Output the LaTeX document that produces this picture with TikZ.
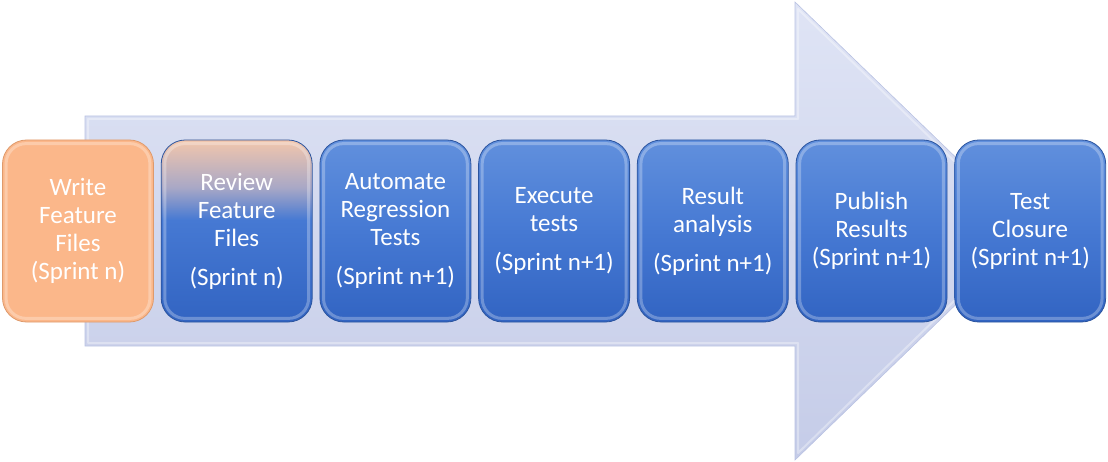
\documentclass[tikz,border=0pt]{standalone}
\usepackage{fontspec}
\setmainfont{Carlito}
\definecolor{bluetop}{HTML}{6190DD}
\definecolor{bluemid}{HTML}{4679D3}
\definecolor{bluebot}{HTML}{3264C2}
\definecolor{boxedge}{HTML}{2B549E}
\definecolor{peach}{HTML}{F2C6AC}
\definecolor{mauve}{HTML}{A9A8C6}
\definecolor{orangefill}{HTML}{FBB78A}
\definecolor{orangeedge}{HTML}{DE9A6C}
\definecolor{arrowtop}{HTML}{DFE4F5}
\definecolor{arrowbot}{HTML}{C5CCE8}
\definecolor{arrowedge}{HTML}{B9C2E2}
% vertical shadings: the path's box maps onto 25bp..75bp
\pgfdeclareverticalshading{bluebox}{100bp}{color(0bp)=(bluebot); color(25bp)=(bluebot); color(50bp)=(bluemid); color(75bp)=(bluetop); color(100bp)=(bluetop)}
\pgfdeclareverticalshading{mixbox}{100bp}{color(0bp)=(bluebot); color(25bp)=(bluebot); color(53bp)=(bluemid); color(62bp)=(mauve); color(75bp)=(peach); color(100bp)=(peach)}
\pgfdeclareverticalshading{bigarrow}{100bp}{color(0bp)=(arrowbot); color(25bp)=(arrowbot); color(75bp)=(arrowtop); color(100bp)=(arrowtop)}
\tikzset{
  stagebase/.style={rounded corners=24pt, minimum width=151pt, minimum height=182pt,
    line width=0.8pt, text=white, align=center,
    inner sep=0pt, font=\fontsize{25}{28}\selectfont},
  stage/.style={stagebase, draw=boxedge, shading=bluebox},
  firststage/.style={stagebase, fill=orangefill, draw=orangeedge},
  secondstage/.style={stagebase, draw=boxedge, shading=mixbox},
  bevel/.style={rounded corners=20pt, draw=white, draw opacity=0.28, line width=3pt},
}
\begin{document}
\begin{tikzpicture}[x=1pt, y=-1pt]
\useasboundingbox (0,0) rectangle (1108,462);
% background block arrow
\shade[shading=bigarrow, draw=arrowedge, line width=0.6pt]
  (85,116) -- (795,116) -- (795,2) -- (1032,231) -- (795,460) -- (795,346) -- (85,346) -- cycle;
\draw[white, opacity=0.35, line width=2pt, line join=round]
  (88,119) -- (798,119) -- (798,9) -- (1026,231) -- (798,453) -- (798,343) -- (88,343) -- cycle;
% process stages
\node[firststage] (s1) at (78,231) {Write\\Feature\\Files\\(Sprint n)};
\node[secondstage] (s2) at (236.7,231) {Review\\Feature\\Files\\[11pt](Sprint n)};
\node[stage] (s3) at (395.4,231) {Automate\\Regression\\Tests\\[11pt](Sprint n+1)};
\node[stage] (s4) at (554.1,231) {Execute\\tests\\[11pt](Sprint n+1)};
\node[stage] (s5) at (712.8,231) {Result\\analysis\\[11pt](Sprint n+1)};
\node[stage] (s6) at (871.5,231) {Publish\\Results\\(Sprint n+1)};
\node[stage] (s7) at (1030.2,231) {Test\\Closure\\(Sprint n+1)};
% inner bevel highlight on each stage
\foreach \n in {s1,s2,s3,s4,s5,s6,s7}
  \draw[bevel] ([shift={(4pt,4pt)}]\n.south west) rectangle ([shift={(-4pt,-4pt)}]\n.north east);
\end{tikzpicture}
\end{document}
